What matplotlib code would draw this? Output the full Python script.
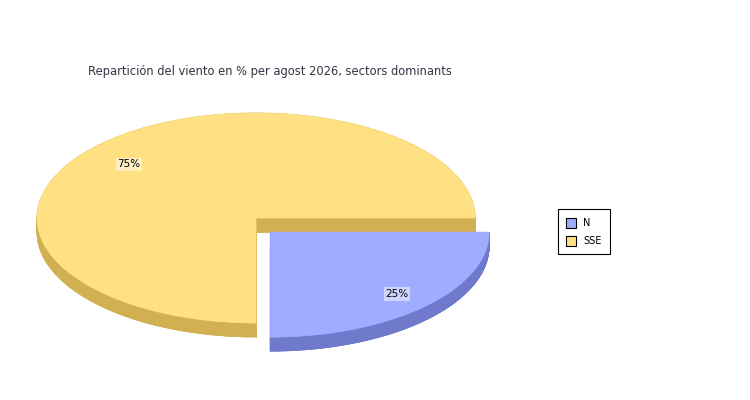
import matplotlib
matplotlib.use('Agg')
import matplotlib.pyplot as plt
from matplotlib.patches import Polygon, Rectangle
import numpy as np

# datos
sectors = ["N", "SSE"]
values = [25, 75]
explode = [1, 0]
top_colors = ["#A0ACFF", "#FFE082"]
side_colors = ["#707ACC", "#D0B050"]
title = "Repartición del viento en % per agost 2026, sectors dominants"

cx, cy = 256, 218
rx, ry = 219, 105
depth = 14
exp_r = 20

fig = plt.figure(figsize=(7.5, 4), dpi=100)
ax = fig.add_axes([0, 0, 1, 1])
ax.set_xlim(0, 750)
ax.set_ylim(400, 0)
ax.axis("off")


def pt(a, ox, oy, dz=0):
    r = np.radians(a)
    return ox + rx * np.cos(r), oy - ry * np.sin(r) + dz


# angulos: desde 0 en sentido horario
total = float(sum(values))
slices = []
start = 0.0
for i, v in enumerate(values):
    end = start - 360.0 * v / total
    mid = (start + end) / 2
    ox = cx + exp_r * explode[i] * np.cos(np.radians(mid))
    oy = cy - exp_r * explode[i] * np.sin(np.radians(mid))
    slices.append((i, start, end, mid, ox, oy))
    start = end

# dibujar de atras hacia adelante: la porcion explotada al final
order = sorted(slices, key=lambda s: explode[s[0]])
for i, a1, a2, mid, ox, oy in order:
    angs = np.linspace(a1, a2, 200)
    arc = [pt(a, ox, oy) for a in angs]
    arc_d = [pt(a, ox, oy, depth) for a in angs]
    sc = side_colors[i]
    # fondo
    ax.add_patch(Polygon([(ox, oy + depth)] + arc_d, closed=True,
                         fc=sc, ec=sc, lw=0.5))
    # caras radiales
    for a in (a1, a2):
        p = pt(a, ox, oy)
        ax.add_patch(Polygon([(ox, oy), p, (p[0], p[1] + depth),
                              (ox, oy + depth)], closed=True,
                             fc=sc, ec=sc, lw=0.5))
    # lateral
    for k in range(len(angs) - 1):
        ax.add_patch(Polygon([arc[k], arc[k + 1], arc_d[k + 1], arc_d[k]],
                             closed=True, fc=sc, ec=sc, lw=0.5))
    # cara superior
    ax.add_patch(Polygon([(ox, oy)] + arc, closed=True,
                         fc=top_colors[i], ec=top_colors[i], lw=0.5))

# etiquetas de porcentaje
for i, a1, a2, mid, ox, oy in slices:
    lx = ox + 0.82 * rx * np.cos(np.radians(mid))
    ly = oy - 0.78 * ry * np.sin(np.radians(mid)) + 4
    ax.text(lx, ly, "%d%%" % round(100 * values[i] / total), fontsize=7.5,
            ha="center", va="center", color="black",
            bbox=dict(boxstyle="square,pad=0.15", fc="white", ec="none",
                      alpha=0.5))

ax.text(88, 72, title, fontsize=8.3, color="#333344", ha="left", va="center")

# leyenda
ax.add_patch(Rectangle((557.5, 208.5), 52, 45, fc="white", ec="black", lw=0.8))
for k, name in enumerate(sectors):
    y = 218 + k * 18
    ax.add_patch(Rectangle((566, y), 10, 10, fc=top_colors[k], ec="black",
                           lw=0.8))
    ax.text(583, y + 5, name, fontsize=7, ha="left", va="center",
            color="black")

fig.savefig("out.png", dpi=100)
